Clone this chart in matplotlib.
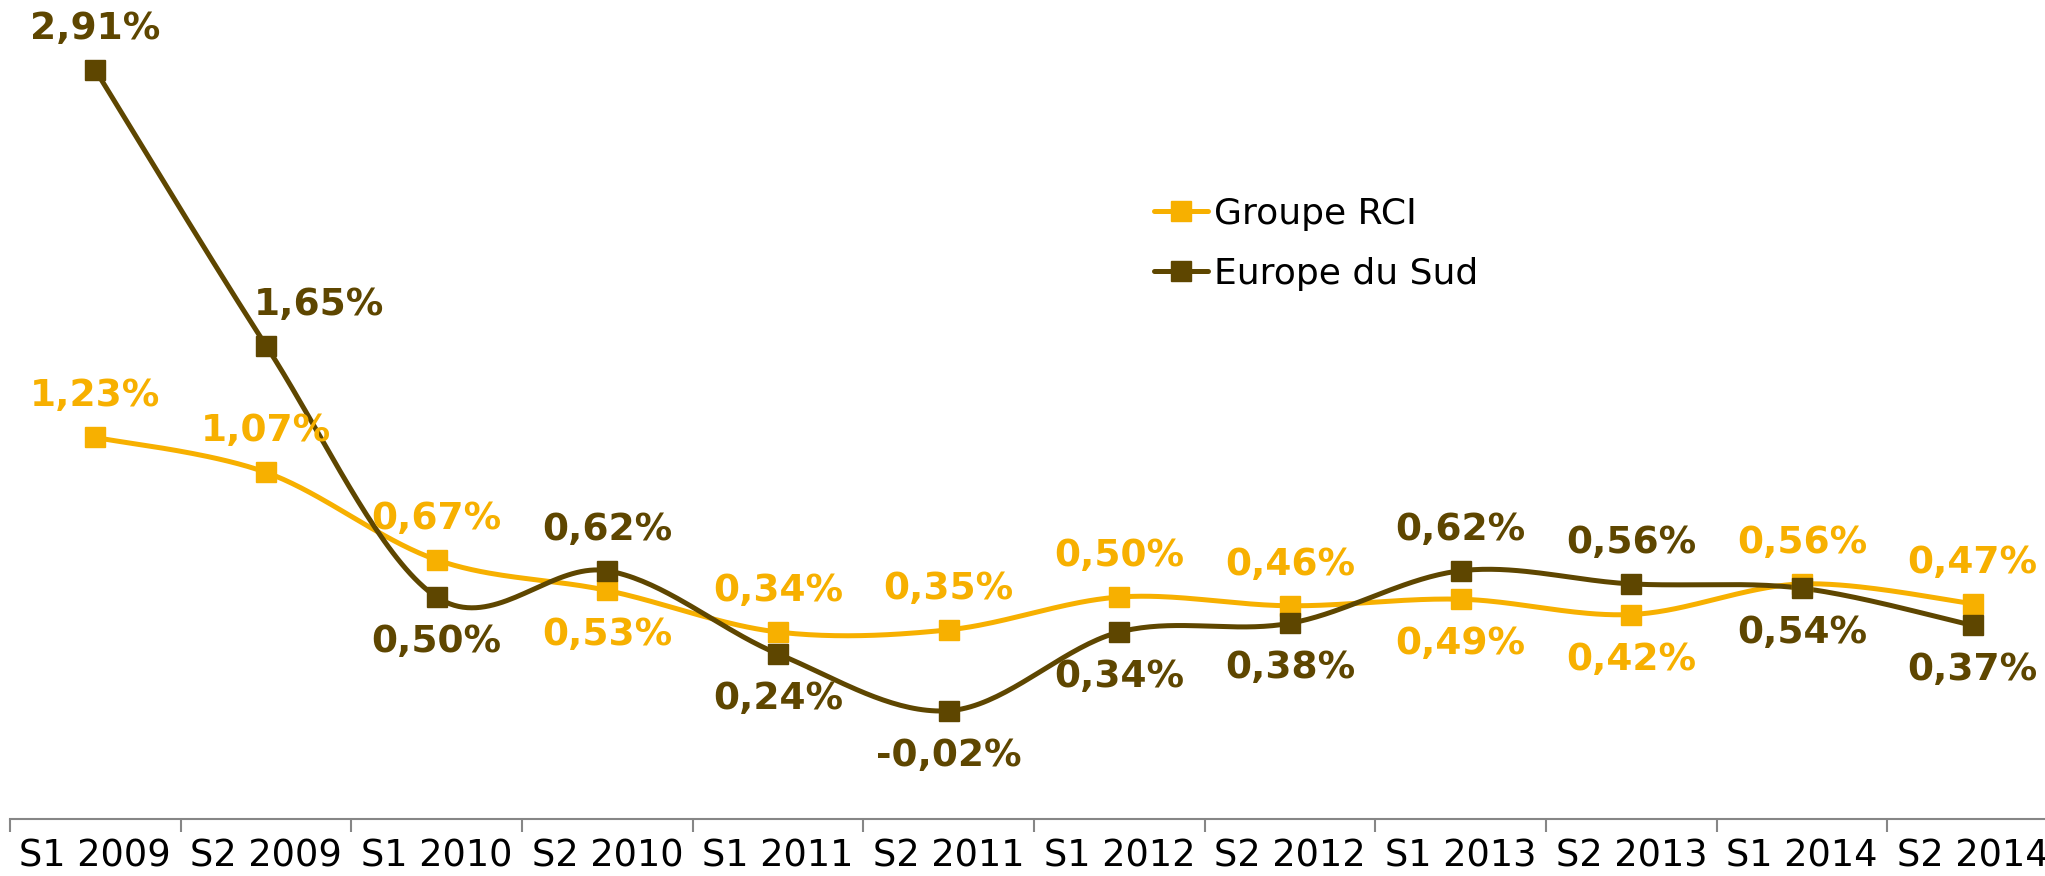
import numpy as np
import matplotlib
matplotlib.use("Agg")
import matplotlib.pyplot as plt
from matplotlib.lines import Line2D

# ---- data ----
categories = ["S1 2009", "S2 2009", "S1 2010", "S2 2010", "S1 2011", "S2 2011",
              "S1 2012", "S2 2012", "S1 2013", "S2 2013", "S1 2014", "S2 2014"]
groupe_rci = [1.23, 1.07, 0.67, 0.53, 0.34, 0.35, 0.50, 0.46, 0.49, 0.42, 0.56, 0.47]
europe_sud = [2.91, 1.65, 0.50, 0.62, 0.24, -0.02, 0.34, 0.38, 0.62, 0.56, 0.54, 0.37]
series_names = ["Groupe RCI", "Europe du Sud"]

# ---- styles ----
colors = ["#F7B000", "#5E4600"]
# label placement: +1 above, -1 below
rci_pos = [1, 1, 1, -1, 1, 1, 1, 1, -1, -1, 1, 1]
sud_pos = [1, 1, -1, 1, -1, -1, -1, -1, 1, 1, -1, -1]
sud_dx = [0, 53, 0, 0, 0, 0, 0, 0, 0, 0, 0, 0]
rci_dx = [0] * 12


def smooth(xs, ys, n=40):
    P = np.column_stack([xs, ys]).astype(float)
    Pe = np.vstack([P[0], P, P[-1]])
    out = []
    for i in range(len(P) - 1):
        p0, p1, p2, p3 = Pe[i], Pe[i + 1], Pe[i + 2], Pe[i + 3]
        b0 = p1
        b1 = p1 + (p2 - p0) / 6.0
        b2 = p2 - (p3 - p1) / 6.0
        b3 = p2
        t = np.linspace(0, 1, n)[:, None]
        seg = ((1 - t) ** 3) * b0 + 3 * ((1 - t) ** 2) * t * b1 + 3 * (1 - t) * t ** 2 * b2 + t ** 3 * b3
        out.append(seg if i == 0 else seg[1:])
    c = np.vstack(out)
    return c[:, 0], c[:, 1]


fig = plt.figure(figsize=(20.45, 8.76), dpi=100)
ax = fig.add_axes([10 / 2045, 57 / 876, 2048 / 2045, 819 / 876])
ax.set_xlim(-0.5, 11.5)
ax.set_ylim(-0.515, 3.23)

x = np.arange(len(categories))
handles = []
for vals, col, name, pos, dx in [(groupe_rci, colors[0], series_names[0], rci_pos, rci_dx),
                                  (europe_sud, colors[1], series_names[1], sud_pos, sud_dx)]:
    sx, sy = smooth(x, vals)
    ax.plot(sx, sy, color=col, lw=3.6, solid_capstyle="round", zorder=3)
    ax.plot(x, vals, ls="none", marker="s", ms=14.5, color=col, zorder=4)
    handles.append(Line2D([0], [0], color=col, lw=3.6, marker="s", ms=14.5,
                          solid_capstyle="round"))
    for xi, v, p, d in zip(x, vals, pos, dx):
        txt = f"{v:.2f}%".replace(".", ",")
        oy = 41 if p > 0 else -45
        ax.annotate(txt, (xi, v), xytext=(d, oy), textcoords="offset pixels",
                    ha="center", va="center", fontsize=27, fontweight="bold",
                    color=col, zorder=5)

for s in ["top", "right", "left"]:
    ax.spines[s].set_visible(False)
ax.spines["bottom"].set_color("#868686")
ax.spines["bottom"].set_linewidth(1.5)
ax.spines["bottom"].set_position(("data", -0.515))
ax.set_yticks([])

ax.set_xticks(np.arange(-0.5, 12.0, 1.0))
ax.set_xticklabels([])
ax.tick_params(axis="x", which="major", length=9, width=1.5, color="#868686", direction="out")
ax.set_xticks(x, minor=True)
ax.set_xticklabels(categories, minor=True)
ax.tick_params(axis="x", which="minor", length=0, pad=13, labelsize=26.5, labelcolor="black")

leg = fig.legend(handles, series_names, loc="upper left",
                 bbox_to_anchor=(1154 / 2045, 1 - 197 / 876), frameon=False,
                 fontsize=26, handlelength=1.5, handletextpad=0.15,
                 labelspacing=0.72, borderpad=0, borderaxespad=0)

fig.savefig("out.png", dpi=100)
